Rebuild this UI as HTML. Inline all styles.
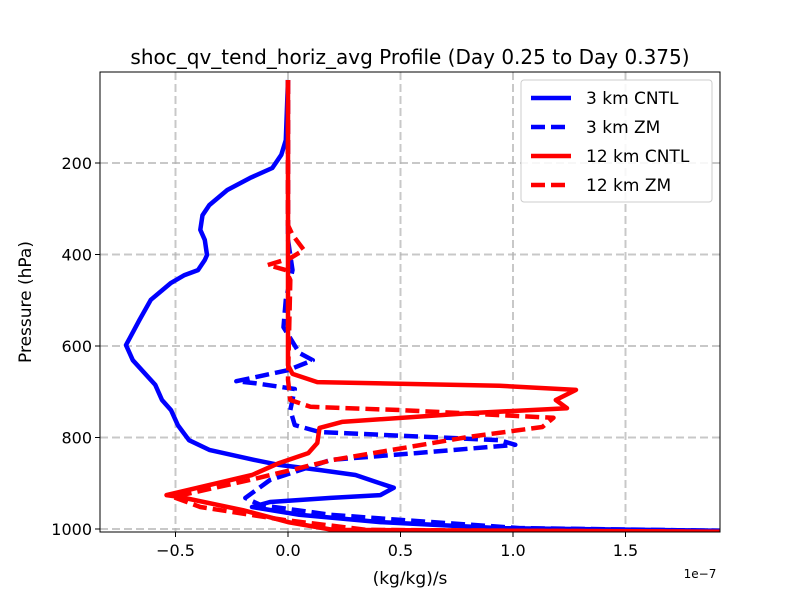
<!DOCTYPE html>
<html><head><meta charset="utf-8"><style>body{margin:0;background:#fff}svg text{font-family:"DejaVu Sans","Liberation Sans",sans-serif}</style></head>
<body>
<svg id="chart" width="800" height="600" xmlns="http://www.w3.org/2000/svg">
<rect width="800" height="600" fill="#fff"/>
<text x="410" y="64" font-size="20" text-anchor="middle">shoc_qv_tend_horiz_avg Profile (Day 0.25 to Day 0.375)</text>
<g id="grid"></g>
<defs><clipPath id="clip"><rect x="100" y="72" width="620" height="460"/></clipPath></defs>
<g id="series" clip-path="url(#clip)"></g>
<rect x="100" y="72" width="620" height="460" fill="none" stroke="#000" stroke-width="1"/>
<g id="ticks"></g>
<text x="410" y="584" font-size="17" text-anchor="middle">(kg/kg)/s</text>
<text x="700" y="578" font-size="12" text-anchor="middle">1e−7</text>
<text transform="translate(31,302) rotate(-90)" font-size="17" text-anchor="middle">Pressure (hPa)</text>
<g>
<rect x="521" y="80" width="191" height="122" rx="3" fill="#fff" fill-opacity="0.85" stroke="#ccc"/>
<g id="legend-items"></g>
</g>
</svg>
<script>
const xTicks=[-0.5,0,0.5,1.0,1.5];
const xTickLabels=["−0.5","0.0","0.5","1.0","1.5"];
const yTicks=[200,400,600,800,1000];
const seriesNames=["3 km CNTL","3 km ZM","12 km CNTL","12 km ZM"];
const seriesColors=["#0000ff","#0000ff","#ff0000","#ff0000"];
const seriesDashed=[false,true,false,true];
const p3c=[18.6,150,182,211,233,259,292,314,346,368,401,412,434,445,462,499,543,598,631,685,718,740,773,806,827,849,860,871,882,897,910,926,932,941,952,969,985,998,1004];
const v3c=[0,-.01,-.03,-.07,-.17,-.27,-.35,-.38,-.39,-.37,-.36,-.37,-.4,-.46,-.52,-.61,-.66,-.72,-.69,-.59,-.56,-.52,-.49,-.44,-.35,-.15,-.04,.14,.3,.39,.47,.41,.19,-.08,-.16,.05,.41,.94,1.92];
const p3z=[18.6,368,434,499,559,615,631,653,677,681,694,740,773,788,806,816,834,849,893,932,948,969,980,998,1004];
const v3z=[0,0,.02,-.01,-.02,.05,.11,0,-.23,-.15,.03,.01,.03,.14,.94,1.01,.57,.19,-.08,-.19,-.12,.19,.5,1.03,1.92];
const p12c=[18.6,642,661,679,687,696,718,736,747,766,779,812,834,856,882,926,930,959,985,1002,1006];
const v12c=[0,0,.02,.13,.94,1.28,1.19,1.24,.8,.24,.14,.13,.09,-.04,-.16,-.54,-.48,-.2,0,.2,1.92];
const p12z=[18.6,336,357,390,408,423,434,456,674,718,733,740,757,777,799,849,893,930,952,980,1002,1006];
const v12z=[0,0,.02,.07,.01,-.09,-.01,.01,0,.01,.1,.5,1.18,1.13,.8,.2,-.17,-.51,-.39,-.02,.35,1.79];
const seriesP=[p3c,p3z,p12c,p12z];
const seriesV=[v3c,v3z,v12c,v12z];

const NS="http://www.w3.org/2000/svg";
const X=v=>288+(v)*225;
const Y=p=>163+(p-200)*0.4575;
function mk(tag,attrs,parent){const e=document.createElementNS(NS,tag);for(const k in attrs)e.setAttribute(k,attrs[k]);parent.appendChild(e);return e;}
const grid=document.getElementById('grid'),ticks=document.getElementById('ticks');
xTicks.forEach((t,i)=>{
  const g=mk('line',{x1:X(t),x2:X(t),y1:72,y2:532,stroke:'#b0b0b0','stroke-width':2,'stroke-dasharray':'8,4','stroke-opacity':0.7},grid);
  
  
  mk('line',{x1:X(t),x2:X(t),y1:532,y2:537,stroke:'#000'},ticks);
  const tx=mk('text',{x:X(t),y:556,'font-size':16,'text-anchor':'middle'},ticks);tx.textContent=xTickLabels[i];
  
  
});
yTicks.forEach(t=>{
  const g=mk('line',{x1:100,x2:720,y1:Y(t),y2:Y(t),stroke:'#b0b0b0','stroke-width':2,'stroke-dasharray':'8,4','stroke-opacity':0.7},grid);
  
  
  mk('line',{x1:95,x2:100,y1:Y(t),y2:Y(t),stroke:'#000'},ticks);
  const tx=mk('text',{x:92,y:Y(t)+6,'font-size':16,'text-anchor':'end'},ticks);tx.textContent=t;
  
  
});
const sg=document.getElementById('series'),lg=document.getElementById('legend-items');
seriesNames.forEach((n,i)=>{
  const d=seriesP[i].map((p,j)=>(j?'L':'M')+X(seriesV[i][j]).toFixed(1)+','+Y(p).toFixed(1)).join('');
  const a={d:d,fill:'none',stroke:seriesColors[i],'stroke-width':4.5,'stroke-linejoin':'round'};
  if(seriesDashed[i])a['stroke-dasharray']='14,6';
  const path=mk('path',a,sg);
  
  
  const y=98+i*29;
  const la={x1:531,x2:571,y1:y,y2:y,stroke:seriesColors[i],'stroke-width':4.5};
  if(seriesDashed[i])la['stroke-dasharray']='14,6';
  const ll=mk('line',la,lg);
  
  
  const lt=mk('text',{x:586,y:y+6,'font-size':17},lg);lt.textContent=n;
  
  
});
</script>
</body></html>
